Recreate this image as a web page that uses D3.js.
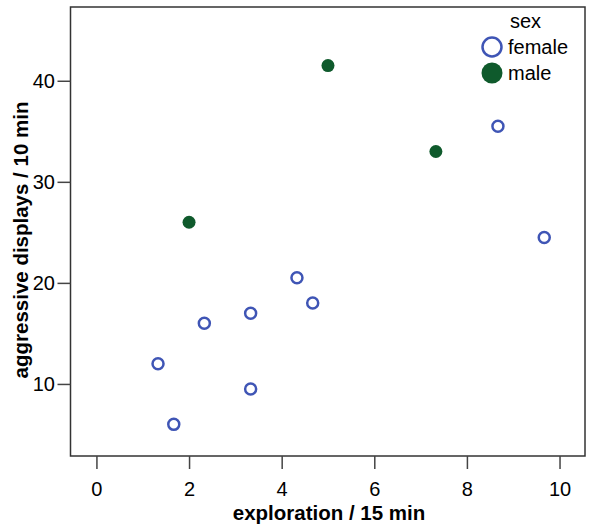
<!DOCTYPE html>
<html>
<head>
<meta charset="utf-8">
<script src="https://cdn.jsdelivr.net/npm/d3@7"></script>
<style>
  body { margin: 0; background: #fff; }
  svg { display: block; font-family: "Liberation Sans", Arial, sans-serif; }
</style>
</head>
<body>
<svg id="chart" width="600" height="529"></svg>
<script>
// Data
const femaleX = [1.33, 1.67, 2.33, 3.33, 3.33, 4.33, 4.67, 8.67, 9.67];
const femaleY = [12, 6, 16, 17, 9.5, 20.5, 18, 35.5, 24.5];
const maleX = [2, 5, 7.33];
const maleY = [26, 41.5, 33];
const xTicks = [0, 2, 4, 6, 8, 10];
const yTicks = [10, 20, 30, 40];
const legendTitle = "sex";
const legendLabels = ["female", "male"];
const xTitle = "exploration / 15 min";
const yTitle = "aggressive displays / 10 min";

const femaleColor = "#3f55b5";
const maleColor = "#0f5a2c";

(function () {
const svg = d3.select("#chart");
const mLeft = 70.5, mRight = 585, mTop = 7, mBottom = 456;
const FS = 20;

const x = d3.scaleLinear().domain([-0.56, 10.55]).range([mLeft, mRight]);
const y = d3.scaleLinear().domain([2.87, 47.3]).range([mBottom, mTop]);

// frame
svg.append("rect")
  .attr("x", mLeft).attr("y", mTop)
  .attr("width", mRight - mLeft).attr("height", mBottom - mTop)
  .attr("fill", "none").attr("stroke", "#333").attr("stroke-width", 1.5);

// x axis
const xAxis = d3.axisBottom(x).tickValues(xTicks).tickSize(13).tickPadding(13).tickFormat(d3.format("d"));
const gx = svg.append("g").attr("transform", `translate(0,${mBottom})`).call(xAxis);
gx.select(".domain").remove();
gx.selectAll(".tick line").attr("stroke", "#444").attr("stroke-width", 1.5);
gx.selectAll(".tick text").attr("font-size", FS).attr("fill", "#000")
  .attr("font-family", "Liberation Sans, Arial, sans-serif");

// y axis
const yAxis = d3.axisLeft(y).tickValues(yTicks).tickSize(13).tickPadding(2.5).tickFormat(d3.format("d"));
const gy = svg.append("g").attr("transform", `translate(${mLeft},0)`).call(yAxis);
gy.select(".domain").remove();
gy.selectAll(".tick line").attr("stroke", "#444").attr("stroke-width", 1.5);
gy.selectAll(".tick text").attr("font-size", FS).attr("fill", "#000")
  .attr("font-family", "Liberation Sans, Arial, sans-serif");

// axis titles
svg.append("text")
  .attr("x", 329).attr("y", 519.5)
  .attr("text-anchor", "middle").attr("font-size", 20.5).attr("font-weight", "bold")
  .text(xTitle);
svg.append("text")
  .attr("transform", `translate(28,240) rotate(-90)`)
  .attr("text-anchor", "middle").attr("font-size", 20.5).attr("font-weight", "bold")
  .text(yTitle);

// points
svg.append("g").selectAll("circle")
  .data(femaleX.map((v, i) => [v, femaleY[i]]))
  .join("circle")
  .attr("cx", d => x(d[0])).attr("cy", d => y(d[1]))
  .attr("r", 5.5)
  .attr("fill", "none").attr("stroke", femaleColor).attr("stroke-width", 2.5);

svg.append("g").selectAll("circle")
  .data(maleX.map((v, i) => [v, maleY[i]]))
  .join("circle")
  .attr("cx", d => x(d[0])).attr("cy", d => y(d[1]))
  .attr("r", 6.5)
  .attr("fill", maleColor);

// legend
const lg = svg.append("g");
lg.append("text").attr("x", 510).attr("y", 28).attr("font-size", FS).text(legendTitle);
lg.append("circle").attr("cx", 492).attr("cy", 47).attr("r", 9.5)
  .attr("fill", "none").attr("stroke", femaleColor).attr("stroke-width", 2.5);
lg.append("circle").attr("cx", 492).attr("cy", 73).attr("r", 10.5).attr("fill", maleColor);
lg.append("text").attr("x", 508).attr("y", 54).attr("font-size", FS).text(legendLabels[0]);
lg.append("text").attr("x", 508).attr("y", 80).attr("font-size", FS).text(legendLabels[1]);
})();
</script>
</body>
</html>
